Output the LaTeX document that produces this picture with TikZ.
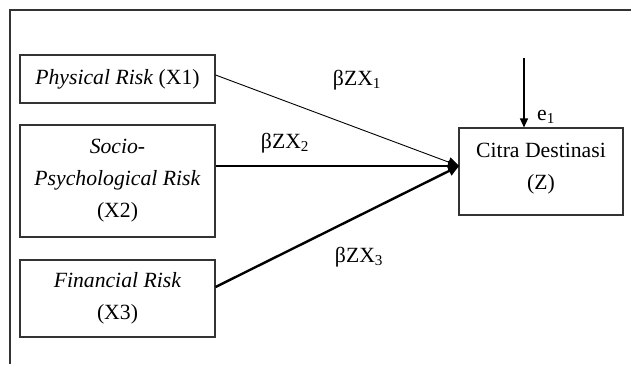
\documentclass[tikz,border=0pt]{standalone}
\usepackage{fontspec}
\setmainfont{Liberation Serif}
\usetikzlibrary{arrows.meta}
\begin{document}
\begin{tikzpicture}[x=1pt,y=-1pt,
  box/.style={draw=black!80,line width=1.1pt,rectangle,inner sep=0pt,align=center,
    font=\fontsize{21.7}{32}\selectfont},
  lbl/.style={font=\fontsize{21.7}{26}\selectfont,inner sep=0pt},
  conn/.style={line width=1pt,-{Triangle[length=11pt,width=10pt]}}]
\useasboundingbox (0,0) rectangle (631,364);
% outer frame (only left and top edges visible)
\draw[black!80,line width=1.3pt] (10,364) -- (10,10) -- (631,10);
% nodes
\node[box,minimum width=195pt,minimum height=48pt] (b1) at (117.5,79) {\textit{Physical Risk} (X1)};
\node[box,minimum width=195pt,minimum height=112pt] (b2) at (117.5,181) {\textit{Socio-}\\\textit{Psychological Risk}\\(X2)};
\node[box,minimum width=195pt,minimum height=77pt] (b3) at (117.5,298.5) {\textit{Financial Risk}\\(X3)};
\node[box,minimum width=164pt,minimum height=87pt,text depth=10pt] (z) at (541,171.5) {Citra Destinasi\\(Z)};
\coordinate (zin) at (459,166);
\coordinate (etop) at (524,58);
% connectors
\draw[conn,line width=0.9pt] ([yshift=4pt]b1.east) -- (zin);
\draw[conn,line width=1.2pt] (b2.east |- zin) -- (zin);
\draw[conn,line width=2.4pt] ([yshift=11.5pt]b3.east) -- (zin);
\draw[line width=1.2pt,-{Triangle[length=9pt,width=8pt]}] (etop) -- (etop |- z.north);
% labels
\node[lbl] (l1) at (357,80) {βZX\textsubscript{1}};
\node[lbl] (l2) at (285,143) {βZX\textsubscript{2}};
\node[lbl] (l3) at (359,257) {βZX\textsubscript{3}};
\node[lbl] (e1) at (546,117) {e\textsubscript{1}};
\end{tikzpicture}
\end{document}
